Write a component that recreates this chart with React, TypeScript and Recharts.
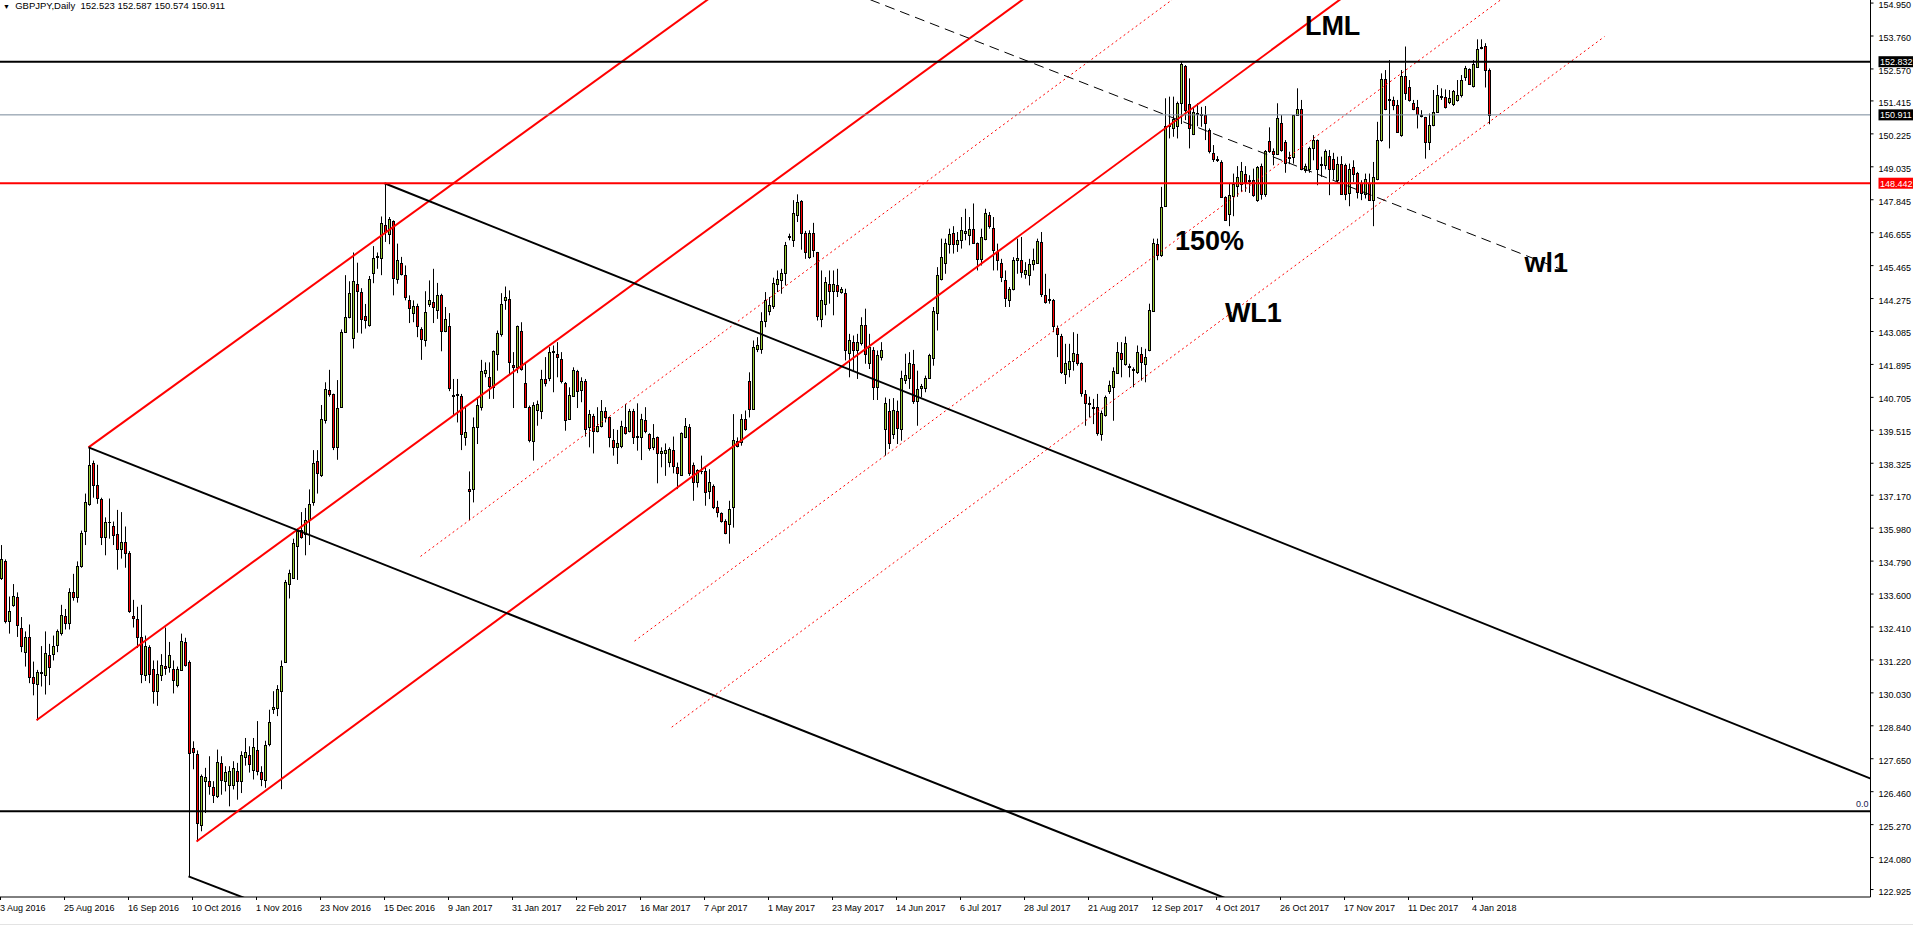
import React from 'react'
import { ComposedChart, Bar, XAxis, YAxis, ReferenceLine, ReferenceDot } from 'recharts'

// GBPJPY daily candles, 3 Aug 2016 .. 10 Jan 2018 (one entry per bar)
const opens = [
  134.18, 134.78, 132.62, 133.21, 133.48, 132.39, 131.5, 132.05, 130.61, 130.35,
  130.73, 130.68, 131.4, 131.43, 131.75, 132.2, 132.8, 132.54, 133.69, 133.51,
  134.63, 135.86, 136.86, 138.34, 137.53, 137.05, 135.67, 136.19, 136.07, 135.77,
  135.22, 135.49, 135.07, 132.8, 132.69, 132.05, 130.68, 131.69, 130.9, 130.09,
  130.68, 131.01, 130.98, 130.9, 130.31, 130.86, 131.87, 131.13, 128.04, 127.82,
  125.27, 126.86, 126.84, 126.62, 126.32, 127.48, 126.84, 126.71, 126.69, 127.22,
  126.84, 127.7, 127.8, 127.25, 127.98, 127.16, 126.89, 128.2, 129.45, 129.49,
  130.09, 131.16, 133.96, 134.18, 135.33, 135.92, 135.77, 136.26, 136.91, 138.39,
  137.9, 139.88, 140.96, 140.81, 138.9, 140.36, 143.07, 143.61, 142.86, 144.8,
  144.5, 143.64, 143.31, 145.2, 145.78, 145.75, 146.92, 146.62, 147.07, 144.99,
  145.57, 145.11, 144.23, 143.75, 143.99, 143.18, 142.76, 144.09, 144.15, 143.87,
  144.39, 143.12, 143.3, 140.8, 140.8, 140.77, 139.29, 137.4, 137.39, 139.62,
  140.35, 141.58, 141.43, 141.09, 142.28, 143.0, 144.21, 144.27, 141.88, 141.79,
  143.12, 141.23, 140.35, 139.14, 140.25, 140.2, 141.37, 141.41, 142.34, 142.28,
  142.1, 141.23, 139.92, 140.77, 141.64, 140.97, 141.31, 139.62, 140.05, 139.48,
  139.68, 140.2, 139.98, 139.16, 138.9, 138.96, 139.62, 139.5, 140.23, 139.27,
  139.29, 139.89, 139.38, 138.9, 139.26, 138.68, 138.7, 138.36, 138.8, 138.2,
  137.91, 139.26, 139.62, 138.27, 137.63, 138.03, 138.05, 137.33, 137.51, 136.73,
  136.51, 136.24, 136.12, 136.73, 139.14, 139.08, 139.92, 141.31, 140.29, 142.46,
  142.46, 143.48, 143.82, 143.99, 144.81, 144.93, 145.21, 146.5, 146.4, 147.31,
  147.79, 146.64, 145.77, 146.66, 145.96, 143.54, 144.09, 144.81, 144.54, 144.77,
  144.51, 144.48, 142.3, 142.7, 142.42, 142.66, 143.33, 141.94, 142.42, 141.07,
  142.18, 139.56, 140.2, 139.38, 140.2, 139.56, 141.34, 141.41, 141.91, 140.59,
  141.04, 141.05, 141.41, 142.13, 143.75, 144.99, 145.56, 146.26, 146.66, 146.23,
  146.38, 146.66, 146.56, 146.78, 146.28, 145.72, 146.43, 147.28, 146.84, 145.96,
  145.56, 144.95, 144.21, 144.63, 145.68, 145.65, 145.17, 145.11, 145.53, 145.56,
  146.32, 144.42, 144.21, 144.23, 143.22, 142.94, 141.55, 141.73, 142.03, 142.28,
  141.94, 140.83, 140.47, 140.37, 140.37, 139.38, 140.08, 140.93, 141.09, 141.58,
  142.3, 141.92, 141.8, 141.72, 141.61, 142.28, 141.92, 142.4, 143.82, 146.26,
  145.84, 147.61, 150.52, 150.42, 150.5, 151.35, 152.68, 151.29, 150.22, 150.99,
  150.92, 150.9, 150.38, 149.55, 149.29, 149.21, 147.95, 147.34, 147.97, 148.33,
  148.43, 148.77, 148.53, 148.57, 147.85, 149.06, 148.04, 149.97, 149.61, 149.49,
  150.63, 149.94, 149.35, 149.4, 150.9, 151.14, 148.91, 148.97, 149.7, 150.0,
  149.15, 149.09, 149.42, 149.3, 148.55, 149.13, 149.09, 148.09, 149.03, 148.82,
  148.45, 148.07, 148.45, 147.83, 148.61, 150.0, 152.19, 151.45, 151.45, 151.26,
  150.18, 152.32, 151.9, 151.33, 151.18, 150.92, 150.82, 149.94, 150.54, 151.02,
  151.61, 151.57, 151.39, 151.3, 151.45, 151.63, 152.29, 152.56, 151.95, 152.65,
  153.32, 153.4, 152.523,
]

const highs = [
  135.37, 134.85, 133.51, 133.96, 133.66, 132.77, 132.25, 132.5, 131.16, 130.86,
  131.72, 132.25, 131.8, 132.1, 132.32, 133.21, 133.06, 133.81, 134.33, 134.78,
  135.89, 137.23, 138.9, 138.42, 138.27, 137.08, 136.37, 137.05, 136.22, 136.64,
  136.56, 136.04, 135.15, 133.39, 133.14, 133.21, 132.1, 131.75, 131.2, 131.2,
  131.43, 132.39, 131.87, 131.2, 130.98, 132.17, 132.02, 131.2, 128.28, 127.95,
  127.08, 127.32, 127.74, 126.84, 127.98, 127.74, 127.38, 127.38, 127.56, 127.5,
  127.92, 128.4, 128.1, 128.4, 129.01, 127.38, 128.3, 129.42, 130.09, 130.31,
  131.2, 134.11, 134.48, 135.6, 135.97, 136.56, 136.71, 137.38, 138.8, 138.8,
  140.43, 141.25, 141.7, 140.84, 141.33, 143.16, 145.12, 144.9, 145.94, 145.57,
  144.65, 144.08, 145.09, 146.17, 145.94, 147.24, 148.44, 147.22, 147.1, 146.26,
  145.78, 145.47, 144.39, 144.21, 144.09, 143.24, 144.54, 144.93, 145.35, 144.84,
  144.45, 143.97, 143.75, 141.37, 141.37, 140.83, 140.35, 138.03, 139.98, 140.65,
  142.06, 141.97, 141.97, 142.4, 143.12, 144.47, 144.71, 144.57, 142.34, 143.3,
  143.42, 141.97, 140.41, 140.53, 140.59, 141.7, 142.16, 142.52, 142.58, 142.7,
  142.34, 141.26, 141.07, 141.79, 141.7, 141.43, 141.37, 140.25, 140.11, 140.35,
  140.61, 140.35, 140.0, 139.56, 139.53, 139.86, 140.47, 140.29, 140.29, 140.49,
  140.11, 140.35, 139.41, 139.74, 139.29, 138.9, 139.04, 138.9, 139.29, 138.35,
  139.44, 139.96, 139.74, 138.35, 138.11, 138.6, 138.17, 138.11, 137.56, 136.97,
  136.55, 136.3, 136.97, 140.1, 139.26, 140.1, 140.23, 141.61, 142.76, 142.88,
  143.78, 144.51, 144.33, 145.03, 145.29, 145.35, 146.32, 146.62, 147.83, 148.04,
  147.83, 146.72, 146.74, 147.01, 145.96, 145.29, 145.05, 145.29, 145.29, 145.35,
  144.69, 144.63, 143.0, 142.94, 143.0, 143.6, 143.91, 143.0, 142.52, 142.4,
  142.7, 140.7, 140.65, 140.68, 140.59, 141.67, 142.28, 142.34, 142.42, 141.67,
  141.19, 141.49, 142.28, 143.97, 145.41, 146.44, 146.44, 146.8, 146.89, 146.68,
  147.22, 147.52, 147.22, 147.71, 146.3, 146.8, 147.52, 147.4, 147.22, 146.26,
  145.71, 145.29, 144.69, 145.77, 146.44, 146.5, 145.59, 145.71, 146.08, 146.44,
  146.68, 145.17, 144.63, 144.26, 143.3, 143.0, 142.64, 142.64, 143.06, 143.0,
  141.97, 140.97, 140.73, 140.65, 140.83, 140.23, 140.77, 141.31, 141.79, 142.7,
  142.7, 142.9, 141.92, 141.79, 142.58, 142.52, 142.46, 144.09, 146.44, 146.44,
  148.31, 151.51, 151.57, 151.57, 151.39, 152.83, 152.71, 152.23, 151.2, 151.33,
  151.2, 151.23, 150.42, 149.82, 149.42, 149.27, 147.97, 148.45, 148.79, 149.06,
  149.21, 149.06, 148.73, 148.97, 149.06, 149.15, 149.64, 150.46, 149.7, 151.33,
  150.9, 150.0, 149.58, 150.9, 151.87, 151.45, 149.15, 149.76, 150.18, 150.02,
  149.4, 149.66, 149.64, 149.54, 149.4, 149.42, 149.15, 149.15, 149.27, 148.85,
  148.55, 148.79, 148.79, 149.21, 150.66, 152.41, 152.53, 152.89, 151.57, 151.45,
  152.53, 153.38, 152.17, 151.45, 151.45, 151.08, 150.84, 150.96, 151.81, 151.99,
  151.87, 151.83, 151.81, 151.81, 152.17, 152.35, 152.68, 152.59, 152.89, 153.64,
  153.64, 153.5, 152.587,
]

const lows = [
  134.11, 132.54, 132.17, 133.14, 132.05, 131.5, 130.98, 130.38, 129.94, 129.04,
  130.26, 129.97, 130.31, 131.2, 131.5, 132.1, 132.32, 132.32, 133.36, 133.29,
  134.55, 135.37, 136.79, 137.08, 136.86, 135.37, 135.0, 135.6, 135.37, 134.48,
  134.88, 134.55, 132.92, 132.39, 131.65, 130.38, 130.46, 130.38, 129.64, 129.56,
  130.46, 130.68, 130.76, 130.01, 130.23, 130.83, 130.98, 123.4, 127.27, 124.66,
  125.03, 125.69, 126.35, 126.05, 126.23, 126.35, 126.47, 125.93, 126.54, 126.17,
  126.41, 127.4, 127.15, 126.9, 127.05, 126.66, 126.6, 128.1, 129.27, 129.19,
  126.55, 131.13, 133.44, 134.18, 134.11, 135.6, 135.0, 135.37, 136.79, 137.23,
  137.83, 139.76, 140.73, 138.8, 138.45, 140.33, 143.04, 143.56, 142.47, 143.04,
  143.01, 143.19, 143.26, 144.83, 145.35, 145.12, 146.32, 146.24, 144.39, 144.81,
  145.11, 144.21, 143.39, 143.42, 142.88, 142.06, 142.54, 143.97, 143.39, 143.54,
  142.37, 143.06, 140.93, 140.04, 139.8, 138.8, 138.96, 136.27, 136.91, 139.02,
  140.23, 141.43, 140.65, 140.65, 141.67, 142.9, 143.87, 141.55, 140.32, 141.58,
  141.67, 140.35, 139.08, 138.42, 139.68, 139.92, 141.1, 141.29, 140.89, 141.43,
  141.21, 139.5, 139.89, 140.73, 140.32, 140.53, 139.29, 138.9, 138.68, 139.44,
  139.62, 139.8, 138.9, 138.6, 138.3, 138.87, 139.36, 139.44, 139.02, 138.78,
  138.44, 139.41, 138.78, 138.8, 137.6, 138.18, 137.87, 138.18, 137.96, 137.39,
  137.87, 139.23, 137.87, 136.97, 137.45, 137.93, 136.79, 137.03, 136.67, 136.37,
  136.18, 135.76, 135.42, 136.0, 138.9, 138.96, 139.5, 139.98, 140.25, 142.34,
  142.28, 143.24, 143.67, 143.9, 144.51, 144.45, 144.75, 146.38, 146.14, 147.04,
  146.04, 145.71, 145.71, 145.77, 143.48, 143.24, 143.67, 144.09, 143.67, 144.33,
  144.45, 142.04, 141.43, 141.67, 141.37, 142.58, 141.92, 141.73, 140.61, 140.61,
  142.04, 138.6, 138.84, 139.2, 139.02, 139.14, 141.19, 141.01, 140.47, 139.68,
  140.71, 140.89, 141.37, 141.85, 143.12, 144.93, 145.17, 145.9, 145.9, 145.96,
  146.08, 146.38, 146.2, 146.26, 145.29, 145.47, 146.38, 146.8, 145.29, 145.29,
  144.87, 143.97, 143.97, 144.57, 145.17, 145.03, 144.99, 144.75, 145.29, 145.53,
  144.33, 144.09, 144.09, 143.06, 142.16, 141.55, 141.19, 141.43, 141.67, 141.85,
  140.73, 139.68, 139.98, 139.74, 139.32, 139.14, 140.01, 140.83, 139.86, 141.55,
  141.43, 141.85, 141.43, 141.07, 141.55, 141.31, 141.25, 142.37, 143.8, 145.66,
  145.78, 147.59, 150.06, 150.12, 150.06, 150.58, 150.72, 149.7, 150.18, 150.5,
  150.48, 150.0, 149.52, 149.21, 149.21, 147.92, 147.08, 146.89, 147.25, 147.95,
  148.13, 148.13, 148.09, 147.95, 147.77, 147.85, 147.95, 149.54, 149.09, 149.46,
  149.58, 148.82, 149.13, 149.15, 150.87, 148.91, 148.82, 148.82, 149.27, 148.37,
  148.67, 148.94, 148.01, 148.57, 148.45, 148.03, 147.83, 147.61, 148.49, 147.89,
  147.83, 147.89, 147.83, 146.89, 148.55, 149.94, 151.08, 149.7, 151.08, 150.27,
  150.12, 151.45, 151.39, 151.08, 150.42, 150.82, 149.33, 149.64, 150.5, 150.99,
  151.45, 151.14, 151.3, 151.23, 151.39, 151.54, 152.14, 151.99, 151.9, 152.65,
  153.28, 151.9, 150.574,
]

const closes = [
  134.85, 132.62, 132.99, 133.54, 132.47, 131.72, 132.05, 130.61, 130.38, 130.8,
  130.79, 131.46, 130.95, 131.72, 132.25, 132.84, 132.54, 133.66, 133.48, 134.63,
  135.82, 136.94, 138.25, 137.53, 137.08, 135.67, 136.19, 136.22, 135.74, 135.22,
  135.49, 135.07, 132.99, 132.74, 132.05, 130.71, 131.72, 130.71, 130.09, 130.71,
  131.05, 130.93, 131.4, 130.5, 130.9, 131.9, 131.05, 127.86, 127.88, 125.32,
  127.02, 126.98, 126.68, 126.35, 127.52, 126.89, 127.16, 127.2, 127.32, 126.86,
  127.77, 127.9, 127.46, 128.07, 127.22, 126.93, 128.16, 128.97, 129.52, 130.16,
  131.01, 134.03, 134.37, 135.45, 135.89, 135.67, 136.26, 136.86, 138.35, 137.98,
  139.94, 140.99, 140.81, 138.9, 140.33, 143.07, 143.61, 144.46, 144.9, 144.53,
  143.55, 143.49, 144.98, 145.75, 145.82, 146.99, 146.68, 147.16, 145.03, 145.68,
  145.15, 144.32, 143.94, 143.99, 143.27, 142.82, 143.78, 144.23, 143.97, 144.39,
  143.1, 143.54, 141.05, 140.74, 140.84, 139.38, 139.44, 137.32, 139.65, 140.44,
  141.64, 141.71, 141.13, 142.37, 143.02, 144.09, 144.33, 141.97, 141.82, 143.27,
  141.73, 140.37, 139.16, 140.43, 140.47, 141.37, 141.22, 142.34, 142.38, 142.18,
  141.31, 139.89, 140.79, 141.71, 140.95, 141.31, 139.56, 140.11, 139.5, 139.68,
  140.2, 139.98, 139.26, 138.92, 139.04, 139.66, 139.41, 140.23, 139.29, 139.31,
  139.92, 139.48, 138.87, 139.24, 138.68, 138.78, 138.8, 138.84, 138.24, 137.96,
  139.42, 139.68, 137.99, 137.63, 138.08, 138.06, 137.27, 137.63, 136.73, 136.55,
  136.24, 135.79, 136.67, 139.16, 138.96, 139.92, 139.56, 140.29, 142.52, 142.58,
  143.48, 144.23, 144.03, 144.83, 144.99, 145.21, 146.2, 146.55, 147.38, 147.77,
  146.64, 145.96, 146.66, 146.04, 143.63, 144.21, 144.89, 144.54, 144.81, 144.54,
  144.63, 142.4, 142.76, 142.42, 142.7, 143.33, 142.28, 142.52, 141.09, 142.22,
  142.4, 140.49, 139.04, 140.26, 139.6, 141.41, 141.52, 141.94, 140.59, 141.01,
  141.1, 141.41, 142.22, 143.84, 145.11, 145.77, 146.28, 146.62, 146.26, 146.4,
  146.76, 146.7, 146.8, 146.28, 145.72, 146.5, 147.37, 146.89, 146.04, 145.68,
  145.05, 144.3, 144.63, 145.65, 145.75, 145.23, 145.29, 145.53, 145.68, 146.35,
  144.45, 144.15, 144.25, 143.27, 143.0, 141.61, 141.94, 142.03, 142.3, 141.94,
  140.85, 140.49, 140.51, 140.33, 139.41, 140.13, 140.71, 141.17, 141.67, 142.34,
  142.1, 142.66, 141.84, 141.68, 142.34, 141.97, 142.16, 143.87, 146.28, 145.84,
  147.59, 150.5, 150.56, 150.75, 151.33, 152.74, 151.08, 150.42, 151.02, 150.94,
  150.96, 150.62, 149.61, 149.33, 149.33, 147.95, 147.1, 148.01, 148.43, 148.67,
  148.89, 148.49, 148.57, 148.01, 149.03, 148.04, 149.61, 149.61, 149.49, 150.78,
  149.64, 149.18, 149.39, 150.9, 151.14, 148.97, 149.06, 149.7, 150.02, 148.97,
  149.09, 149.61, 148.97, 148.97, 149.15, 148.07, 148.07, 148.97, 148.79, 148.13,
  148.09, 148.61, 147.85, 148.65, 150.02, 152.19, 151.14, 151.49, 151.26, 150.3,
  152.32, 151.71, 151.45, 151.14, 150.94, 150.88, 149.94, 150.54, 151.02, 151.63,
  151.57, 151.2, 151.51, 151.78, 151.63, 152.17, 152.59, 152.03, 152.75, 153.28,
  153.38, 152.52, 150.911,
]

// bottom labels, one every 16 bars
const dateLabels = [
  '3 Aug 2016', '25 Aug 2016', '16 Sep 2016', '10 Oct 2016', '1 Nov 2016', '23 Nov 2016',
  '15 Dec 2016', '9 Jan 2017', '31 Jan 2017', '22 Feb 2017', '16 Mar 2017', '7 Apr 2017',
  '1 May 2017', '23 May 2017', '14 Jun 2017', '6 Jul 2017', '28 Jul 2017', '21 Aug 2017',
  '12 Sep 2017', '4 Oct 2017', '26 Oct 2017', '17 Nov 2017', '11 Dec 2017', '4 Jan 2018',
]

const priceTicks = [
  154.95, 153.76, 152.57, 151.415, 150.225, 149.035, 147.845, 146.655, 145.465, 144.275,
  143.085, 141.895, 140.705, 139.515, 138.325, 137.17, 135.98, 134.79, 133.6, 132.41,
  131.22, 130.03, 128.84, 127.65, 126.46, 125.27, 124.08, 122.925,
]

// drawn objects, in (bar, price) pairs: [x1, p1, x2, p2]
const pitchfork = [
  [22, 138.9, 200, 157.5],
  [9, 129.04, 280, 157.66],
  [49, 124.66, 360, 157.75],
]
const warningLines = [
  [105, 134.96, 300, 155.83],
  [158.5, 131.9, 382, 155.81],
  [167.8, 128.79, 401, 153.74],
]
const fallingLines = [
  [22, 138.9, 330, 121.25],
  [96, 148.44, 470, 126.79],
  [47, 123.4, 80, 121.56],
]
const wl1Line = [210, 155.49, 392, 145.23]

const levels = [
  { p: 152.832, color: '#000', w: 2, tag: '152.832', tagBg: '#000' },
  { p: 150.911, color: '#778899', w: 1, tag: '150.911', tagBg: '#000' },
  { p: 148.442, color: '#ff0000', w: 2, tag: '148.442', tagBg: '#ff0000' },
]
const fibZero = 125.75

const notes = [
  { text: 'LML', i: 326.1, p: 153.8 },
  { text: '150%', i: 293.6, p: 146.03 },
  { text: 'WL1', i: 306.1, p: 143.43 },
  { text: 'wl1', i: 381, p: 145.24 },
]

const SLOTS = 468
const BULL = '#9acd32'
const BEAR = '#ff0000'
const FONT = '"Liberation Sans", Arial, sans-serif'

const rows = Array.from({ length: SLOTS }, (_, i) =>
  i < opens.length
    ? { i, o: opens[i], h: highs[i], l: lows[i], c: closes[i], range: [lows[i], highs[i]] }
    : { i }
)

const dateTicks = dateLabels.map((_, k) => k * 16)

function Candle(props: any) {
  const { x, y, width, height } = props
  const d = props.payload ?? props
  if (d == null || d.o == null || x == null) return null
  const top = Math.min(y, y + height)
  const span = Math.abs(height)
  const k = span / (d.h - d.l || 1)
  const py = (p: number) => top + (d.h - p) * k
  const cx = Math.round(x + width / 2 - 0.5) + 0.5
  const bTop = Math.round(py(Math.max(d.o, d.c))) + 0.5
  const bBot = Math.round(py(Math.min(d.o, d.c))) + 0.5
  const up = d.c >= d.o
  return (
    <g>
      <line x1={cx} x2={cx} y1={top} y2={top + span} stroke="#000" strokeWidth={1} />
      {bBot - bTop < 1 ? (
        <line x1={cx - 1.5} x2={cx + 1.5} y1={bTop} y2={bTop} stroke="#000" strokeWidth={1} />
      ) : (
        <rect x={cx - 1} y={bTop} width={2} height={bBot - bTop} fill={up ? BULL : BEAR} stroke="#000" strokeWidth={1} />
      )}
    </g>
  )
}

function PriceTick(props: any) {
  const { x, y, payload } = props
  return (
    <text x={x} y={y + 5} fontSize={9} fontFamily={FONT} fill="#000" textAnchor="start">
      {Number(payload.value).toFixed(3)}
    </text>
  )
}

function DateTick(props: any) {
  const { x, y, payload } = props
  const label = dateLabels[Math.round(payload.value / 16)]
  return (
    <text x={x - 0.5} y={y + 10} fontSize={9} fontFamily={FONT} fill="#000" textAnchor="start">
      {label}
    </text>
  )
}

const priceTag = (text: string, bg: string) => (p: any) => {
  const vb = p.viewBox || {}
  const bx = vb.x + vb.width + 8
  return (
    <g>
      <rect x={bx} y={vb.y - 5.5} width={1913 - bx} height={11} fill={bg} />
      <text x={bx + 1.5} y={vb.y + 3.5} fontSize={9} fontFamily={FONT} fill="#fff">
        {text}
      </text>
    </g>
  )
}

const zeroTag = (p: any) => {
  const vb = p.viewBox || {}
  return (
    <text x={vb.x + vb.width - 2} y={vb.y - 4} fontSize={9} fontFamily={FONT} fill="#1c1c50" textAnchor="end">
      0.0
    </text>
  )
}

const noteLabel = (text: string) => (p: any) => {
  const vb = p.viewBox || {}
  return (
    <text x={vb.x} y={vb.y} fontSize={27} fontWeight="bold" fontFamily={FONT} fill="#000">
      {text}
    </text>
  )
}

const seg = (s: number[]) => [
  { x: s[0], y: s[1] },
  { x: s[2], y: s[3] },
]

export default function App() {
  return (
    <div style={{ position: 'absolute', left: 0, top: 0, width: 1913, height: 952, background: '#fff', overflow: 'hidden' }}>
      <ComposedChart
        width={1913}
        height={952}
        data={rows}
        margin={{ top: 0, right: 0, bottom: 0, left: -1.5 }}
      >
        <XAxis
          dataKey="i"
          type="category"
          ticks={dateTicks}
          interval={0}
          height={55}
          axisLine={{ stroke: '#000' }}
          tickLine={{ stroke: '#000' }}
          tickSize={3}
          tickMargin={1}
          tick={<DateTick />}
        />
        <XAxis xAxisId="n" dataKey="i" type="number" domain={[-0.5, 467.5]} allowDataOverflow hide />
        <YAxis
          orientation="right"
          domain={[122.655, 155.061]}
          ticks={priceTicks}
          interval={0}
          width={42.5}
          allowDataOverflow
          axisLine={{ stroke: '#000' }}
          tickLine={{ stroke: '#000' }}
          tickSize={3}
          tickMargin={5}
          tick={<PriceTick />}
        />

        <Bar dataKey="range" barSize={3} shape={<Candle />} isAnimationActive={false} />

        <ReferenceLine y={fibZero} stroke="#000" strokeWidth={2} ifOverflow="visible" label={zeroTag} />

        {pitchfork.map((s, k) => (
          <ReferenceLine key={'pf' + k} xAxisId="n" segment={seg(s)} stroke="#ff0000" strokeWidth={2} ifOverflow="hidden" />
        ))}
        {warningLines.map((s, k) => (
          <ReferenceLine key={'wl' + k} xAxisId="n" segment={seg(s)} stroke="#ff0000" strokeWidth={1} strokeDasharray="2 3" ifOverflow="hidden" />
        ))}
        {fallingLines.map((s, k) => (
          <ReferenceLine key={'fl' + k} xAxisId="n" segment={seg(s)} stroke="#000" strokeWidth={2} ifOverflow="hidden" />
        ))}
        <ReferenceLine xAxisId="n" segment={seg(wl1Line)} stroke="#000" strokeWidth={1} strokeDasharray="10 6" ifOverflow="hidden" />

        {levels.map((lv) => (
          <ReferenceLine
            key={lv.tag}
            y={lv.p}
            stroke={lv.color}
            strokeWidth={lv.w}
            ifOverflow="visible"
            label={priceTag(lv.tag, lv.tagBg)}
          />
        ))}

        {notes.map((n) => (
          <ReferenceDot key={n.text} xAxisId="n" x={n.i} y={n.p} r={0} fill="none" stroke="none" label={noteLabel(n.text)} />
        ))}
      </ComposedChart>

      <div
        style={{
          position: 'absolute',
          left: 3,
          top: 0,
          fontFamily: FONT,
          fontSize: 9.5,
          lineHeight: '11px',
          whiteSpace: 'pre',
          color: '#000',
        }}
      >
        <span style={{ fontSize: 7 }}>▼</span>
        {'  GBPJPY,Daily  152.523 152.587 150.574 150.911'}
      </div>
      <div style={{ position: 'absolute', left: 0, top: 924, width: 1913, height: 1, background: '#e3e3e3' }} />
    </div>
  )
}
